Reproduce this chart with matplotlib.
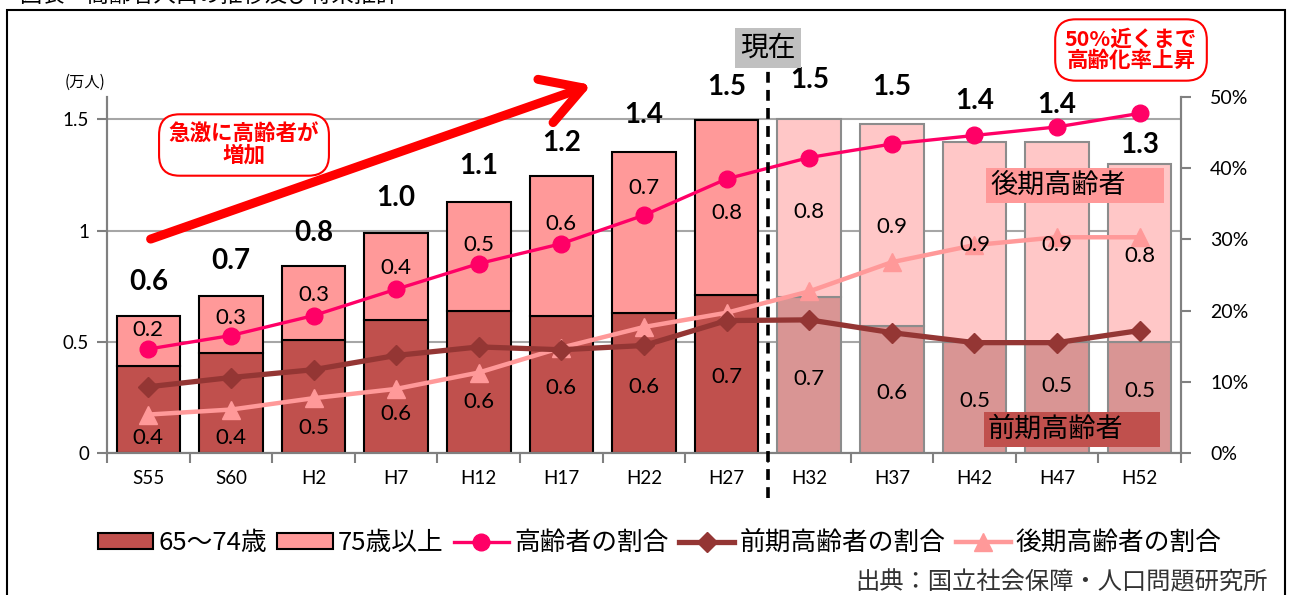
import matplotlib
matplotlib.use("Agg")
import matplotlib.pyplot as plt
from matplotlib.patches import Rectangle, FancyArrowPatch
from matplotlib.lines import Line2D
import numpy as np

JP = ['Noto Sans CJK JP', 'DejaVu Sans']
NUM = ['Lato', 'Noto Sans CJK JP', 'DejaVu Sans']
plt.rcParams['font.family'] = NUM

# ---------------- data ----------------
categories = ['S55', 'S60', 'H2', 'H7', 'H12', 'H17', 'H22', 'H27',
              'H32', 'H37', 'H42', 'H47', 'H52']
n_past = 8
early_elderly = [0.39, 0.45, 0.51, 0.60, 0.64, 0.615, 0.63, 0.71,
                 0.70, 0.57, 0.50, 0.50, 0.50]          # 65~74歳 (万人)
late_elderly = [0.225, 0.255, 0.33, 0.39, 0.49, 0.63, 0.725, 0.785,
                0.80, 0.91, 0.90, 0.90, 0.80]            # 75歳以上 (万人)
total_labels = ['0.6', '0.7', '0.8', '1.0', '1.1', '1.2', '1.4', '1.5',
                '1.5', '1.5', '1.4', '1.4', '1.3']
early_labels = ['0.4', '0.4', '0.5', '0.6', '0.6', '0.6', '0.6', '0.7',
                '0.7', '0.6', '0.5', '0.5', '0.5']
late_labels = ['0.2', '0.3', '0.3', '0.4', '0.5', '0.6', '0.7', '0.8',
               '0.8', '0.9', '0.9', '0.9', '0.8']
ratio_all = [14.6, 16.5, 19.3, 23.0, 26.6, 29.4, 33.4, 38.5,
             41.5, 43.4, 44.6, 45.8, 47.7]               # 高齢者の割合 (%)
ratio_early = [9.3, 10.6, 11.7, 13.7, 14.9, 14.5, 15.1, 18.6,
               18.7, 16.9, 15.5, 15.5, 17.2]             # 前期高齢者の割合 (%)
ratio_late = [5.4, 6.1, 7.7, 9.0, 11.3, 14.8, 17.7, 19.7,
              22.7, 26.8, 29.2, 30.3, 30.3]              # 後期高齢者の割合 (%)

# label placement (data units of left axis)
early_label_y = [0.067, 0.067, 0.112, 0.175, 0.229, 0.292, 0.296, 0.341,
                 0.332, 0.269, 0.233, 0.301, 0.278]
late_label_y = [0.552, 0.606, 0.709, 0.831, 0.934, 1.028, 1.19, 1.078,
                1.082, 1.015, 0.934, 0.934, 0.885]
total_label_y = [0.768, 0.862, 0.988, 1.145, 1.289, 1.392, 1.518, 1.643,
                 1.675, 1.643, 1.58, 1.562, 1.383]

# ---------------- figure ----------------
W, H = 1292, 595
fig = plt.figure(figsize=(W / 100, H / 100), dpi=100)
ax = fig.add_axes([107 / W, 1 - 453 / H, (1181 - 107) / W, (453 - 97) / H])
ax2 = ax.twinx()

x = np.arange(len(categories))
past = x < n_past
c_early = ['#C0504D' if p else '#D99594' for p in past]
c_late = ['#FF9999' if p else '#FFC7C7' for p in past]
c_edge = ['#000000' if p else '#8C8C8C' for p in past]
bw = 0.77

ax.bar(x, early_elderly, bw, color=c_early, edgecolor=c_edge, linewidth=1.5, zorder=2)
ax.bar(x, late_elderly, bw, bottom=early_elderly, color=c_late, edgecolor=c_edge,
       linewidth=1.5, zorder=2)

ax.set_xlim(-0.5, len(categories) - 0.5)
ax.set_ylim(0, 1.6)
ax.set_yticks([0, 0.5, 1, 1.5])
ax.set_yticklabels(['0', '0.5', '1', '1.5'])
ax.yaxis.grid(True, color='#A6A6A6', linewidth=1.5, zorder=0)
ax.set_axisbelow(True)
ax.set_xticks(x)
ax.set_xticklabels(categories)
ax.set_xticks(np.arange(-0.5, len(categories)), minor=True)
ax.tick_params(axis='x', which='major', length=0, pad=12, labelsize=13.5)
ax.tick_params(axis='x', which='minor', length=7, width=1.5, color='#808080')
ax.tick_params(axis='y', length=7, width=1.5, color='#808080', labelsize=13.5, pad=6)
for s in ['left', 'bottom', 'right']:
    ax.spines[s].set_color('#808080')
    ax.spines[s].set_linewidth(1.5)
ax.spines['top'].set_visible(False)

ax2.set_ylim(0, 50)
ax2.set_yticks([0, 10, 20, 30, 40, 50])
ax2.set_yticklabels([f'{v}%' for v in [0, 10, 20, 30, 40, 50]])
ax2.tick_params(axis='y', length=7, width=1.5, color='#808080', labelsize=14, pad=14)
for s in ['left', 'bottom', 'right']:
    ax2.spines[s].set_color('#808080')
    ax2.spines[s].set_linewidth(1.5)
ax2.spines['top'].set_visible(False)

ax2.plot(x, ratio_late, color='#FF9999', lw=3.2, marker='^', ms=13, zorder=3)
ax2.plot(x, ratio_early, color='#943634', lw=3.8, marker='D', ms=10, zorder=4)
ax2.plot(x, ratio_all, color='#FF0066', lw=2.4, marker='o', ms=12, zorder=5)

# data labels
for i in x:
    ax2.text(i, early_label_y[i], early_labels[i], transform=ax.transData,
             ha='center', va='center', fontsize=16, zorder=6)
    ax2.text(i, late_label_y[i], late_labels[i], transform=ax.transData,
             ha='center', va='center', fontsize=16, zorder=6)
    ax2.text(i, total_label_y[i], total_labels[i], transform=ax.transData,
             ha='center', va='center', fontsize=20, fontweight='bold',
             zorder=6, clip_on=False)

# (万人)
fig.text(85 / W, 1 - 82 / H, '(万人)', ha='center', va='center', fontsize=11, family=JP)

# 現在 line + label
ax2.axvline(n_past - 0.5, ymin=-0.125, ymax=1.1, color='black', lw=2.6,
            ls=(0, (3, 2)), zorder=7, clip_on=False)
fig.text(768 / W, 1 - 48 / H, '現在', ha='center', va='center', fontsize=20, family=JP,
         bbox=dict(boxstyle='square,pad=0.18', fc='#C0C0C0', ec='none'), zorder=8)

# red arrow
fig.add_artist(FancyArrowPatch(
    (148 / W, 1 - 240 / H), (594 / W, 1 - 84 / H), transform=fig.transFigure,
    arrowstyle='->,head_length=0.95,head_width=0.55', mutation_scale=30,
    color='#FF0000', lw=6.5, capstyle='round', joinstyle='round', zorder=9))

# annotation boxes
box = dict(boxstyle='round,pad=0.45,rounding_size=0.95', fc='white', ec='#FF0000', lw=1.5)
fig.text(244 / W, 1 - 145 / H, '急激に高齢者が\n増加', ha='center', va='center',
         fontsize=15.5, fontweight='bold', color='#FF0000', family=JP, linespacing=1.0,
         bbox=box, zorder=10)
fig.text(1131 / W, 1 - 50 / H, '50%近くまで\n高齢化率上昇', ha='center', va='center',
         fontsize=15.5, fontweight='bold', color='#FF0000', family=JP, linespacing=1.0,
         bbox=box, zorder=10)

# category name boxes (fixed-size coloured tags)
for (x0, y0, x1, y1, fc, txt) in [(986, 168, 1164, 203, '#FF9999', '後期高齢者'),
                                  (984, 412, 1160, 447, '#C0504D', '前期高齢者')]:
    fig.add_artist(Rectangle((x0 / W, 1 - y1 / H), (x1 - x0) / W, (y1 - y0) / H,
                             transform=fig.transFigure, fc=fc, ec='none', zorder=10))
    fig.text((x0 + 4) / W, 1 - (y0 + y1) / 2 / H, txt, ha='left', va='center',
             fontsize=19.5, family=JP, zorder=11)

# legend
handles = [
    Rectangle((0, 0), 1, 1, fc='#C0504D', ec='black', lw=1.5),
    Rectangle((0, 0), 1, 1, fc='#FF9999', ec='black', lw=1.5),
    Line2D([], [], color='#FF0066', lw=2.4, marker='o', ms=12),
    Line2D([], [], color='#943634', lw=3.8, marker='D', ms=10),
    Line2D([], [], color='#FF9999', lw=3.2, marker='^', ms=13),
]
labels = ['65～74歳', '75歳以上', '高齢者の割合', '前期高齢者の割合', '後期高齢者の割合']
leg = fig.legend(handles, labels, loc='center', bbox_to_anchor=(660 / W, 1 - 543 / H),
                 ncol=5, frameon=False, prop={'family': JP, 'size': 18.5},
                 handlelength=2.15, handleheight=0.55, handletextpad=0.2,
                 columnspacing=0.4, borderpad=0)

# source
fig.text(1268 / W, 1 - 582 / H, '出典：国立社会保障・人口問題研究所', ha='right', va='center',
         fontsize=17.5, family=JP, color='#333333')

# clipped title at very top (cut off in the reference too)
fig.text(20 / W, 1 + 5 / H, '図表　高齢者人口の推移及び将来推計', ha='left', va='center',
         fontsize=16, family=JP)

# outer frame
fig.add_artist(Rectangle((7 / W, -0.1), (1285 - 7) / W, 1.1 - 10 / H,
                         transform=fig.transFigure, fill=False, ec='black', lw=1.5))

fig.savefig('out.png', dpi=100)
